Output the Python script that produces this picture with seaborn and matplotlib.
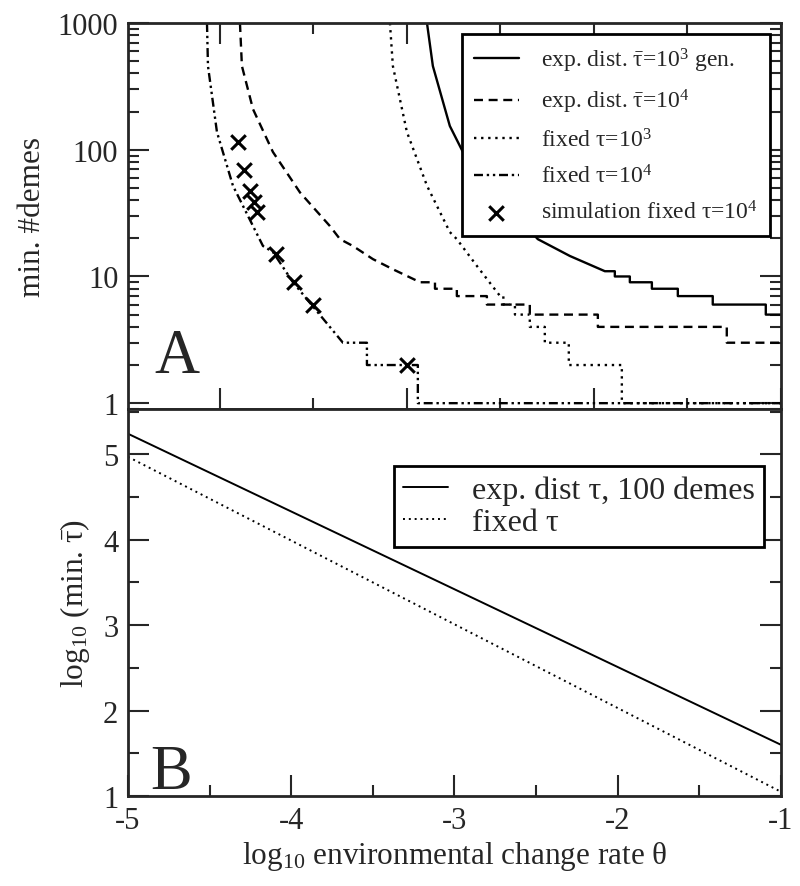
import numpy as np
import pandas as pd
import matplotlib
matplotlib.use("Agg")
import matplotlib.pyplot as plt
import seaborn as sns
from matplotlib.ticker import FixedLocator, NullFormatter, LogLocator, MultipleLocator, FuncFormatter

# ---------------- data (panel A) ----------------
# exp. dist. tau=1e3 : continuous part + integer steps
expA3_theta = [-3.168, -3.132, -3.028, -2.917, -2.489, -2.292, -2.078]
expA3_n = [1000, 458, 154, 80, 19.7, 14.5, 11]
expA3_step_theta = [-2.017, -1.925, -1.79, -1.631, -1.417, -1.092]
expA3_step_n = [10, 9, 8, 7, 6, 5]

# exp. dist. tau=1e4
expA4_theta = [-4.314, -4.302, -4.234, -4.112, -3.946, -3.763, -3.701, -3.622, -3.499, -3.377, -3.21]
expA4_n = [1000, 458, 209, 96, 46, 25, 19.7, 17.4, 13.7, 11.4, 9]
expA4_step_theta = [-3.119, -2.985, -2.801, -2.538, -2.121, -1.331]
expA4_step_n = [8, 7, 6, 5, 4, 3]

# fixed tau=1e3
fixA3_theta = [-3.395, -3.377, -3.291, -3.168, -3.028, -2.985, -2.862, -2.72]
fixA3_n = [1000, 458, 138, 52, 22.4, 19.7, 12.1, 7]
fixA3_step_theta = [-2.70, -2.629, -2.538, -2.446, -2.299, -1.974]
fixA3_step_n = [6, 5, 4, 3, 2, 1]

# fixed tau=1e4
fixA4_theta = [-4.516, -4.51, -4.455, -4.357, -4.234, -4.173, -4.112, -3.989, -3.867, -3.683]
fixA4_n = [1000, 458, 138, 52, 25, 17.4, 15.6, 9, 5.8, 3]
fixA4_step_theta = [-3.536, -3.224]
fixA4_step_n = [2, 1]

# simulation fixed tau=1e4
sim_theta = [-4.326, -4.289, -4.253, -4.228, -4.210, -4.093, -3.983, -3.867, -3.291]
sim_n = [115, 69, 47, 39, 32, 15, 9, 6, 2]

theta_end = -1.0

# ---------------- data (panel B) ----------------
thetaB = [-5.0, -1.0]
expB = [5.24, 1.6]
fixB = [4.97, 1.05]

labelsA = [r"exp. dist. $\bar{\mathrm{τ}}$=10$^3$ gen.",
           r"exp. dist. $\bar{\mathrm{τ}}$=10$^4$",
           r"fixed τ=10$^3$",
           r"fixed τ=10$^4$",
           r"simulation fixed τ=10$^4$"]
labelsB = ["exp. dist τ, 100 demes", "fixed τ"]

# ---------------- style ----------------
sns.set_style("ticks")
plt.rcParams["font.family"] = ["Liberation Serif", "DejaVu Serif"]
plt.rcParams["mathtext.fontset"] = "custom"
plt.rcParams["mathtext.rm"] = "Liberation Serif"
plt.rcParams["mathtext.it"] = "Liberation Serif:italic"
plt.rcParams["mathtext.bf"] = "Liberation Serif:bold"
plt.rcParams["axes.linewidth"] = 2.0


def staircase(th, n, st_th, st_n, end):
    xs = list(th)
    ys = list(n)
    cur = ys[-1]
    for t, v in zip(st_th, st_n):
        xs += [t, t]
        ys += [cur, v]
        cur = v
    xs.append(end)
    ys.append(cur)
    return xs, ys


fig = plt.figure(figsize=(8, 8.87), dpi=100)
axA = fig.add_axes([0.16, 0.5378, 0.816, 0.4351])
axB = fig.add_axes([0.16, 0.1015, 0.816, 0.4363])

LW = 1.7
styles = ["-", (0, (3.8, 2.4)), (0, (1, 2)), (0, (3.8, 1.6, 1, 1.6, 1, 1.6))]
curves = [
    (expA3_theta, expA3_n, expA3_step_theta, expA3_step_n),
    (expA4_theta, expA4_n, expA4_step_theta, expA4_step_n),
    (fixA3_theta, fixA3_n, fixA3_step_theta, fixA3_step_n),
    (fixA4_theta, fixA4_n, fixA4_step_theta, fixA4_step_n),
]
for (th, n, st, sn), ls, lab in zip(curves, styles, labelsA[:4]):
    xs, ys = staircase(th, n, st, sn, theta_end)
    sns.lineplot(x=xs, y=ys, ax=axA, sort=False, estimator=None, color="black",
                 lw=LW, linestyle=ls, label=lab)

sns.scatterplot(x=sim_theta, y=sim_n, ax=axA, marker="x", color="black", s=110,
                linewidth=2.2, label=labelsA[4], zorder=3)

FS = 22.5
axA.set_yscale("log")
axA.set_xlim(-5, -1)
axA.set_ylim(0.9, 1000)
axA.xaxis.set_major_locator(FixedLocator([-4.436, -3.291, -2.145, -1.0]))
axA.xaxis.set_minor_locator(FixedLocator([-3.867, -2.721, -1.576]))
axA.xaxis.set_major_formatter(NullFormatter())
axA.yaxis.set_major_locator(FixedLocator([1, 10, 100, 1000]))
axA.yaxis.set_minor_locator(LogLocator(base=10, subs=np.arange(2, 10)))
axA.yaxis.set_major_formatter(FuncFormatter(lambda v, p: f"{v:g}"))
axA.yaxis.set_minor_formatter(NullFormatter())
axA.set_ylabel("min. #demes", fontsize=FS, labelpad=8)
axA.set_xlabel("")
axA.tick_params(which="both", direction="in", top=True, right=True, bottom=True, left=True,
                labelsize=22, width=1.5, pad=7)
axA.tick_params(which="major", length=15)
axA.tick_params(which="minor", length=8)
legA = axA.legend(loc="upper right", bbox_to_anchor=(0.983, 0.971), borderaxespad=0,
                  fontsize=17, frameon=True, fancybox=False, framealpha=1,
                  edgecolor="black", handlelength=1.9, labelspacing=0.55,
                  borderpad=0.5, handletextpad=0.95)
legA.get_frame().set_linewidth(2)
axA.text(0.041, 0.096, "A", transform=axA.transAxes, fontsize=45, va="baseline", ha="left")

# ---------------- panel B ----------------
sns.lineplot(x=thetaB, y=expB, ax=axB, color="black", lw=1.4, linestyle="-", label=labelsB[0])
sns.lineplot(x=thetaB, y=fixB, ax=axB, color="black", lw=1.4, linestyle=(0, (1, 2)), label=labelsB[1])
axB.set_xlim(-5, -1)
axB.set_ylim(1, 5.53)
axB.xaxis.set_major_locator(MultipleLocator(1))
axB.xaxis.set_minor_locator(MultipleLocator(0.5))
axB.yaxis.set_major_locator(MultipleLocator(1))
axB.yaxis.set_minor_locator(MultipleLocator(0.5))
axB.xaxis.set_major_formatter(FuncFormatter(lambda v, p: f"{v:g}"))
axB.tick_params(which="both", direction="in", top=False, right=True, bottom=True, left=True,
                labelsize=22, width=1.5, pad=7)
axB.tick_params(which="major", length=15)
axB.tick_params(which="minor", length=8)
axB.set_xlabel(r"log$_{10}$ environmental change rate θ", fontsize=FS, labelpad=3)
axB.set_ylabel(r"log$_{10}$ (min. $\bar{\mathrm{τ}}$)", fontsize=FS, labelpad=8)
legB = axB.legend(loc="upper right", bbox_to_anchor=(0.975, 0.853), borderaxespad=0,
                  fontsize=23, frameon=True, fancybox=False, framealpha=1,
                  edgecolor="black", handlelength=1.4, labelspacing=0.1,
                  borderpad=0.3, handletextpad=0.75)
legB.get_frame().set_linewidth(2)
axB.text(0.034, 0.02, "B", transform=axB.transAxes, fontsize=45, va="baseline", ha="left")

fig.savefig("out.png", dpi=100)
